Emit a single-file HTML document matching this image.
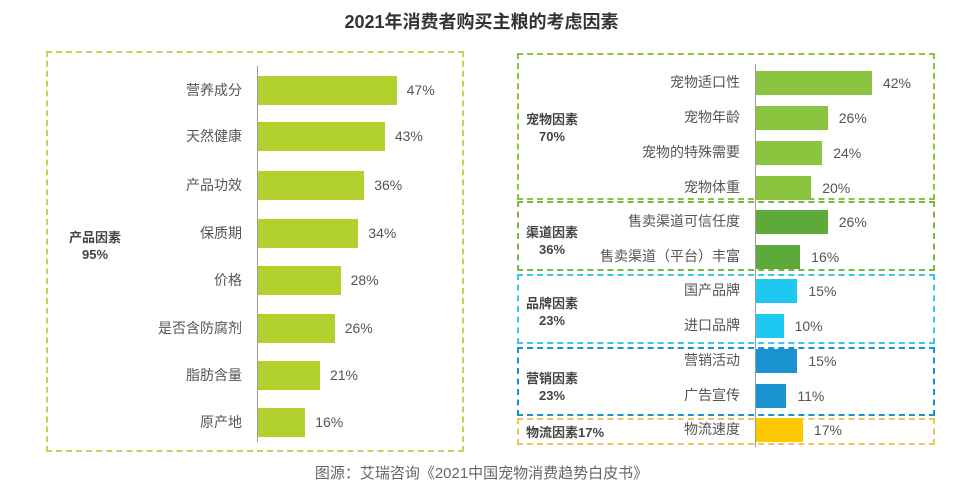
<!DOCTYPE html><html><head><meta charset="utf-8"><style>
body{margin:0;width:963px;height:502px;background:#fff;position:relative;overflow:hidden;font-family:"Liberation Sans","Noto Sans CJK SC",sans-serif;color:#555}
div{position:absolute;box-sizing:border-box}
.t{font-size:14px;white-space:nowrap;line-height:17px}
.r{text-align:right}
.b{font-weight:bold;color:#444;font-size:13px}
</style></head><body>
<div style="left:0;width:963px;top:8px;text-align:center;font-size:18px;font-weight:bold;color:#333">2021年消费者购买主粮的考虑因素</div>

<div style="left:46px;top:51px;width:418px;height:401px;border:2px dashed #bcd85a"></div>
<div style="left:257px;top:66px;width:1px;height:376px;background:#999"></div>
<div class="t b" style="left:60px;top:229px;width:70px;text-align:center">产品因素<br>95%</div>

<div id="L"></div>

<div style="left:517px;top:53px;width:418px;height:147px;border:2px dashed #8bc53f"></div>
<div style="left:517px;top:201px;width:418px;height:70px;border:2px dashed #7ab648"></div>
<div style="left:517px;top:274px;width:418px;height:70px;border:2px dashed #3cc5ee"></div>
<div style="left:517px;top:347px;width:418px;height:69px;border:2px dashed #1a93d0"></div>
<div style="left:517px;top:418px;width:418px;height:27px;border:2px dashed #f5c25a"></div>
<div style="left:755px;top:64px;width:1px;height:383px;background:#999"></div>
<div class="t b" style="left:522px;top:111px;width:60px;text-align:center">宠物因素<br>70%</div>
<div class="t b" style="left:522px;top:224px;width:60px;text-align:center">渠道因素<br>36%</div>
<div class="t b" style="left:522px;top:295px;width:60px;text-align:center">品牌因素<br>23%</div>
<div class="t b" style="left:522px;top:370px;width:60px;text-align:center">营销因素<br>23%</div>
<div class="t b" style="left:526px;top:424px">物流因素17%</div>
<div id="R"></div>

<div style="left:0;width:963px;top:462px;text-align:center;font-size:15px;color:#666">图源：艾瑞咨询《2021中国宠物消费趋势白皮书》</div>
<script>
var L=[["营养成分",47,76],["天然健康",43,122],["产品功效",36,171],["保质期",34,219],["价格",28,266],["是否含防腐剂",26,314],["脂肪含量",21,361],["原产地",16,408]];
var h="";L.forEach(function(d){var w=d[1]*2.95;
h+='<div style="left:258px;top:'+d[2]+'px;width:'+w+'px;height:29px;background:#b3d12e"></div>';
h+='<div class="t r" style="left:140px;width:102px;top:'+(d[2]+6)+'px">'+d[0]+'</div>';
h+='<div class="t" style="left:'+(268+w)+'px;top:'+(d[2]+6)+'px">'+d[1]+'%</div>';});
document.getElementById("L").outerHTML=h;
var R=[["宠物适口性",42,71,"#8bc53f"],["宠物年龄",26,106,"#8bc53f"],["宠物的特殊需要",24,141,"#8bc53f"],["宠物体重",20,176,"#8bc53f"],["售卖渠道可信任度",26,210,"#5daa3a"],["售卖渠道（平台）丰富",16,245,"#5daa3a"],["国产品牌",15,279,"#1ec8f0"],["进口品牌",10,314,"#1ec8f0"],["营销活动",15,349,"#1a93d0"],["广告宣传",11,384,"#1a93d0"],["物流速度",17,418,"#fcc800"]];
h="";R.forEach(function(d){var w=d[1]*2.76;
h+='<div style="left:756px;top:'+d[2]+'px;width:'+w+'px;height:24px;background:'+d[3]+'"></div>';
h+='<div class="t r" style="left:580px;width:160px;top:'+(d[2]+3)+'px">'+d[0]+'</div>';
h+='<div class="t" style="left:'+(767+w)+'px;top:'+(d[2]+4)+'px">'+d[1]+'%</div>';});
document.getElementById("R").outerHTML=h;
</script>
</body></html>
